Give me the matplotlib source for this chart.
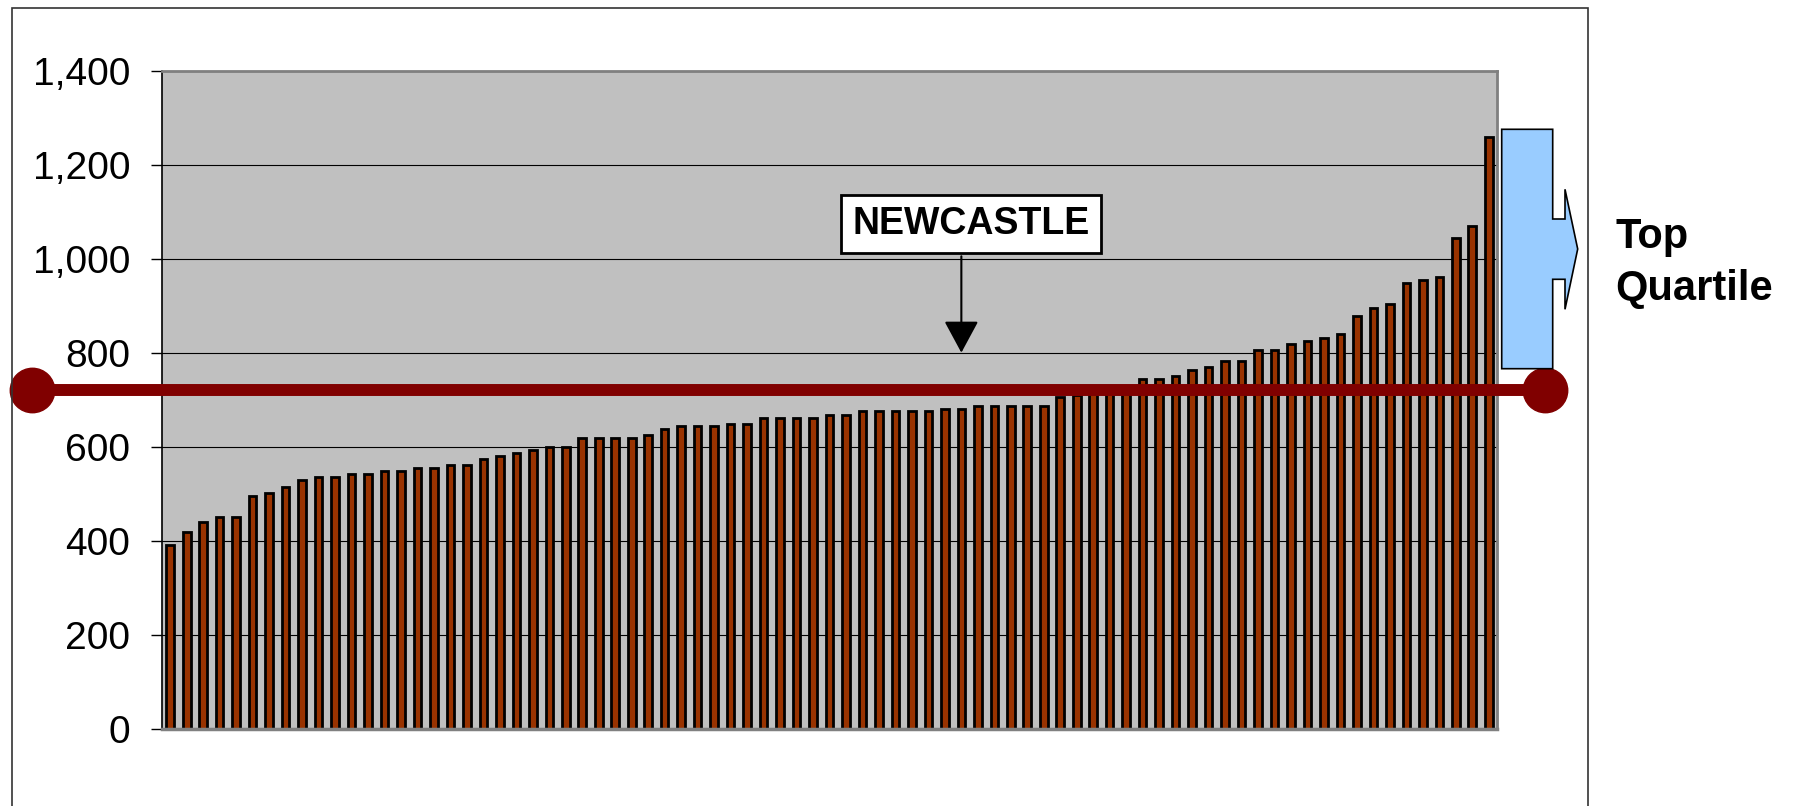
import matplotlib
matplotlib.use("Agg")
import matplotlib.pyplot as plt
import matplotlib.transforms as mtransforms
from matplotlib.patches import Polygon, Rectangle
from matplotlib.ticker import FuncFormatter
import numpy as np

plt.rcParams['font.family'] = ['Liberation Sans', 'DejaVu Sans']

## Cost per authority, sorted from lowest to highest
costs = [393, 420, 440, 452, 452, 497, 503, 516, 530, 536, 536, 542, 542, 549, 549, 555, 555,
         562, 562, 575, 581, 588, 594, 601, 601, 619, 619, 619, 619, 626, 638, 645, 645, 645,
         650, 650, 662, 662, 662, 662, 669, 669, 676, 676, 676, 676, 676, 682, 682,
         688, 688, 688, 688, 688, 707, 712, 718, 722, 728, 744, 744, 751, 764, 770,
         783, 783, 807, 807, 820, 826, 833,
         840, 879, 897, 904, 949, 956, 962, 1045, 1071, 1259]
highlight_index = 48          # Newcastle
highlight_label = "NEWCASTLE"
average_line = 722
y_ticks = [0, 200, 400, 600, 800, 1000, 1200, 1400]
callout_text = ["Top", "Quartile"]

W, H = 1796, 806
BAR_COLOR = '#993300'
LINE_COLOR = '#800000'


def px(x, y):
    """Pixel position (from top-left) to figure fraction."""
    return (x / W, 1 - y / H)


fig = plt.figure(figsize=(W / 100, H / 100), dpi=100)
ax = fig.add_axes([162 / W, 76.7 / H, (1497 - 162) / W, 658.3 / H])

x = np.arange(len(costs))
ax.bar(x, costs, width=0.46, color=BAR_COLOR, edgecolor='black', linewidth=2.0, zorder=2)

ax.set_xlim(-0.5, len(costs) - 0.5)
ax.set_ylim(0, 1400)
ax.set_facecolor('#C0C0C0')
ax.set_yticks(y_ticks)
ax.yaxis.set_major_formatter(FuncFormatter(lambda v, p: f'{int(v):,}'))
ax.tick_params(axis='y', direction='out', length=8, width=1, pad=15, labelsize=28)
ax.set_xticks([])
ax.grid(axis='y', color='black', linewidth=0.8)
ax.set_axisbelow(True)

ax.spines['left'].set_color('black')
ax.spines['left'].set_linewidth(1.2)
for side in ['top', 'right']:
    ax.spines[side].set_color('#808080')
    ax.spines[side].set_linewidth(2)
ax.spines['bottom'].set_color('#808080')
ax.spines['bottom'].set_linewidth(2.5)

# horizontal reference line running past both sides of the plot
trans = mtransforms.blended_transform_factory(ax.transAxes, ax.transData)
ends = [-0.0976, 1.0363]
ax.plot(ends, [average_line] * 2, color=LINE_COLOR, lw=8.6, solid_capstyle='butt',
        transform=trans, clip_on=False, zorder=5)
ax.plot(ends, [average_line] * 2, 'o', ms=32, color=LINE_COLOR, mec=LINE_COLOR,
        transform=trans, clip_on=False, zorder=6)

# label and arrow for the highlighted authority
ax.text(highlight_index + 0.6, 1075, highlight_label, ha='center', va='center',
        fontsize=27, fontweight='bold', zorder=7,
        bbox=dict(boxstyle='square,pad=0.3', fc='white', ec='black', lw=2))
ax.annotate('', xy=(highlight_index, 801), xytext=(highlight_index, 1006),
            arrowprops=dict(arrowstyle='-|>,head_length=1.0,head_width=0.54',
                            mutation_scale=20, color='black', lw=1.5,
                            shrinkA=0, shrinkB=0), zorder=7)

# blue arrow callout to the right of the plot
shape = [(1501.7, 129.3), (1552.7, 129.3), (1552.7, 219), (1565, 219), (1565, 189.3),
         (1577.7, 249), (1565, 309.3), (1565, 279.3), (1552.7, 279.3), (1552.7, 368.7),
         (1501.7, 368.7)]
fig.add_artist(Polygon([px(a, b) for a, b in shape], closed=True, transform=fig.transFigure,
                       fc='#99CCFF', ec='black', lw=1.2, zorder=4))

fig.text(*px(1615, 248.3), callout_text[0], fontsize=30, fontweight='bold', va='baseline')
fig.text(*px(1615, 300), callout_text[1], fontsize=30, fontweight='bold', va='baseline')

# chart frame
fig.add_artist(Rectangle(px(12, 830), (1588 - 12) / W, (830 - 8) / H, transform=fig.transFigure,
                         fill=False, ec='#333333', lw=1.2))

fig.savefig('out.png', dpi=100)
